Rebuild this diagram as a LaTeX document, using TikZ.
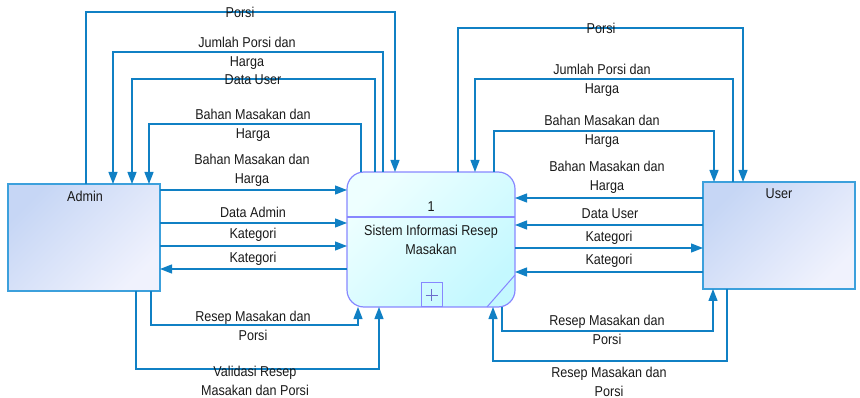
\documentclass[tikz,border=0pt]{standalone}
\usepackage{fontspec}
\setmainfont{Liberation Sans}[FakeStretch=0.88]
\usetikzlibrary{arrows.meta}
\definecolor{flowc}{RGB}{16,128,196}
\definecolor{extb}{RGB}{60,160,220}
\definecolor{extA}{RGB}{198,214,245}
\definecolor{extB}{RGB}{240,242,253}
\definecolor{procb}{RGB}{135,135,255}
\definecolor{procA}{RGB}{238,255,255}
\definecolor{procB}{RGB}{196,248,255}
\definecolor{txt}{RGB}{25,25,25}
\tikzset{
  flow/.style={draw=flowc, line width=1.3pt, -{Triangle[length=12pt,width=9pt]}},
  lbl/.style={font=\fontsize{14.3}{19}\selectfont, text=txt, align=center, inner sep=0pt},
  extent/.style={draw=extb, line width=1.8pt, inner sep=0pt, outer sep=0pt, anchor=north west,
     minimum width=152pt, minimum height=107pt, top color=extA, bottom color=extB, shading angle=45},
  procbox/.style={draw=procb, line width=1.2pt, rounded corners=17pt, inner sep=0pt, outer sep=0pt,
     anchor=north west, minimum width=168pt, minimum height=135pt,
     top color=procA, bottom color=procB, shading angle=45},
}
\begin{document}
\begin{tikzpicture}[x=1pt,y=-1pt]
\useasboundingbox (0,0) rectangle (860,398);
% nodes
\node[extent] (admin) at (8,184) {};
\node[extent] (user) at (703,182) {};
\node[procbox] (proc) at (347,172) {};
\draw[procb, line width=1.2pt] (proc.west |- 0,217) -- (proc.east |- 0,217);
\draw[procb, line width=1pt] (487,307) -- (515,275);
\draw[procb, line width=1pt] (421,283) rectangle (442,307);
\draw[procb!80!black, line width=0.8pt] (425.5,295) -- (437.5,295) (431.5,289) -- (431.5,301);
\node[lbl] (adminlbl) at (85,196) {Admin};
\node[lbl] (userlbl) at (779,194) {User};
\node[lbl] (pnum) at (431,207) {1};
\node[lbl] (pname) at (431,239.5) {Sistem Informasi Resep\\Masakan};

% left loops
\draw[flow] (admin.north -| 86,0) |- (240,12) -| (proc.north -| 395,0);
\draw[flow] (proc.north -| 383,0) |- (247,52) -| (admin.north -| 113,0);
\draw[flow] (proc.north -| 375,0) |- (253,79) -| (admin.north -| 132,0);
\draw[flow] (proc.north -| 361,0) |- (253,124) -| (admin.north -| 149,0);
\draw[flow] (admin.south -| 151,0) |- (253,325) -| (proc.south -| 358,0);
\draw[flow] (admin.south -| 136,0) |- (255,369) -| (proc.south -| 379,0);
% left straight
\draw[flow] (admin.east |- 0,190) -- (proc.west |- 0,190);
\draw[flow] (admin.east |- 0,223) -- (proc.west |- 0,223);
\draw[flow] (admin.east |- 0,246) -- (proc.west |- 0,246);
\draw[flow] (proc.west |- 0,269) -- (admin.east |- 0,269);

% right loops
\draw[flow] (proc.north -| 458,0) |- (601,28) -| (user.north -| 743,0);
\draw[flow] (user.north -| 733,0) |- (602,79) -| (proc.north -| 475,0);
\draw[flow] (proc.north -| 494,0) |- (602,131) -| (user.north -| 714,0);
\draw[flow] (proc.south -| 502,0) |- (607,331) -| (user.south -| 713,0);
\draw[flow] (user.south -| 727,0) |- (609,361) -| (proc.south -| 493,0);
% right straight
\draw[flow] (user.west |- 0,198) -- (proc.east |- 0,198);
\draw[flow] (user.west |- 0,225) -- (proc.east |- 0,225);
\draw[flow] (proc.east |- 0,248) -- (user.west |- 0,248);
\draw[flow] (user.west |- 0,272) -- (proc.east |- 0,272);

% labels left
\node[lbl] (l1) at (240,12) {Porsi};
\node[lbl] (l2) at (247,53) {Jumlah Porsi dan\\Harga};
\node[lbl] (l3) at (253,80) {Data User};
\node[lbl] (l4) at (253,125) {Bahan Masakan dan\\Harga};
\node[lbl] (l5) at (252,170.5) {Bahan Masakan dan\\Harga};
\node[lbl] (l6) at (253,212) {Data Admin};
\node[lbl] (l7) at (253,235) {Kategori};
\node[lbl] (l8) at (253,259) {Kategori};
\node[lbl] (l9) at (253,326) {Resep Masakan dan\\Porsi};
\node[lbl] (l10) at (255,381) {Validasi Resep\\Masakan dan Porsi};
% labels right
\node[lbl] (r1) at (601,28) {Porsi};
\node[lbl] (r2) at (602,80) {Jumlah Porsi dan\\Harga};
\node[lbl] (r3) at (602,131.5) {Bahan Masakan dan\\Harga};
\node[lbl] (r4) at (607,177.5) {Bahan Masakan dan\\Harga};
\node[lbl] (r5) at (610,214) {Data User};
\node[lbl] (r6) at (609,238) {Kategori};
\node[lbl] (r7) at (609,261) {Kategori};
\node[lbl] (r8) at (607,329.5) {Resep Masakan dan\\Porsi};
\node[lbl] (r9) at (609,382) {Resep Masakan dan\\Porsi};
\end{tikzpicture}
\end{document}
